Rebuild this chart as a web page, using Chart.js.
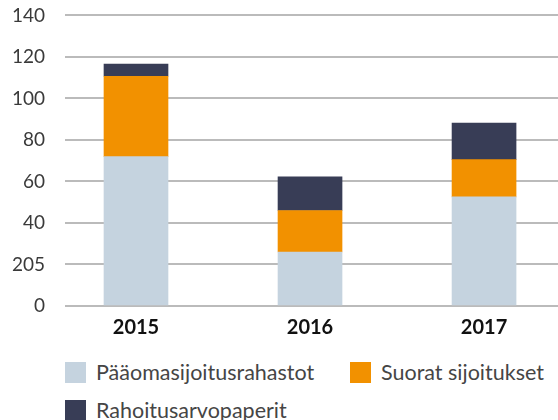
<!DOCTYPE html>
<html>
<head>
<meta charset="utf-8">
<script src="https://cdn.jsdelivr.net/npm/chart.js@4.4.0/dist/chart.umd.min.js"></script>
<style>
    html, body { margin: 0; padding: 0; background: #ffffff; }
    body { position: relative; width: 558px; height: 420px; overflow: hidden; font-family: Lato, "Open Sans", sans-serif; }
    .chart-box { position: absolute; left: 0; top: -16px; width: 558px; height: 371px; }
    .legend { position: absolute; left: 0; top: 345px; width: 558px; }
    .legend-item { position: absolute; display: flex; align-items: center; font-size: 21.5px; line-height: 25px; color: #454545; white-space: nowrap; }
    .legend-swatch { width: 21px; height: 21px; margin-right: 10px; }
</style>
</head>
<body>
<div class="chart-box"><canvas id="chart"></canvas></div>
<div class="legend" id="legend"></div>
<script>
// Data
const years = ['2015', '2016', '2017'];
const seriesNames = ['Pääomasijoitusrahastot', 'Suorat sijoitukset', 'Rahoitusarvopaperit'];
const funds = [72, 26, 52.6];
const direct = [38.7, 20, 17.9];
const securities = [5.8, 16.2, 17.6];
const yTickLabels = ['0', '205', '40', '60', '80', '100', '120', '140'];

const colors = ['#c5d3df', '#f29100', '#383d56'];
const textColor = '#3a3a3a';

// Legend positions (left, top)
const legendSpots = [[65, 15], [350, 15], [65, 53]];

function toPoints(values) {
    return values.map((v, i) => ({ x: i, y: v }));
}

const datasets = [funds, direct, securities].map((values, i) => ({
    label: seriesNames[i],
    data: toPoints(values),
    backgroundColor: colors[i],
    borderWidth: 0,
    barThickness: 64
}));

const chart = new Chart(document.getElementById('chart'), {
    type: 'bar',
    data: { datasets: datasets },
    options: {
        responsive: true,
        maintainAspectRatio: false,
        animation: false,
        layout: { padding: { top: 5, right: 0, bottom: 5, left: 0 } },
        plugins: {
            legend: { display: false },
            tooltip: { enabled: false }
        },
        scales: {
            x: {
                type: 'linear',
                stacked: true,
                offset: false,
                min: -0.408,
                max: 2.425,
                grid: { display: false, drawTicks: false },
                border: { display: false },
                afterBuildTicks: (scale) => {
                    scale.ticks = years.map((y, i) => ({ value: i }));
                },
                ticks: {
                    padding: 10,
                    color: '#111111',
                    font: { family: 'Lato', size: 20, weight: 'bold' },
                    callback: (value) => years[value]
                }
            },
            y: {
                stacked: true,
                min: 0,
                max: 140,
                afterFit: (scale) => { scale.width = 65; },
                grid: { color: '#bbbbbb', lineWidth: 2, drawTicks: false },
                border: { display: false },
                ticks: {
                    stepSize: 20,
                    padding: 20,
                    color: textColor,
                    font: { family: 'Lato', size: 19 },
                    callback: (value) => yTickLabels[value / 20]
                }
            }
        }
    }
});

// Build legend from chart datasets
const legendEl = document.getElementById('legend');
chart.data.datasets.forEach((ds, i) => {
    const item = document.createElement('div');
    item.className = 'legend-item';
    item.style.left = legendSpots[i][0] + 'px';
    item.style.top = legendSpots[i][1] + 'px';
    const swatch = document.createElement('span');
    swatch.className = 'legend-swatch';
    swatch.style.background = ds.backgroundColor;
    const label = document.createElement('span');
    label.textContent = ds.label;
    item.appendChild(swatch);
    item.appendChild(label);
    legendEl.appendChild(item);
});
</script>
</body>
</html>
